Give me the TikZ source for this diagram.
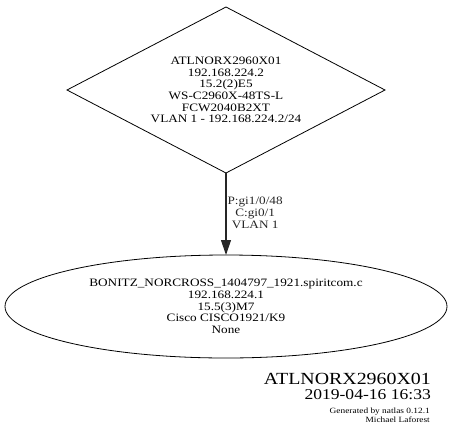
\documentclass[tikz,border=0pt]{standalone}
\usepackage{fontspec}
\setmainfont{Liberation Serif}[FakeStretch=1.17]
\usepackage{tikz}
\usetikzlibrary{shapes.geometric,arrows.meta}

\tikzset{
  devtext/.style={align=center, font=\fontsize{11.3}{11.7}\selectfont},
  switchbox/.style={draw, diamond, aspect=1.92, devtext, line width=0.8pt, inner sep=0pt, outer sep=0pt,
    minimum width=318pt, minimum height=166pt},
  routerbox/.style={draw, ellipse, devtext, line width=0.8pt, inner sep=0pt, outer sep=0pt,
    minimum width=442pt, minimum height=103pt},
  linkarrow/.style={-{Triangle[length=15pt,width=10pt]}, line width=1.2pt, black!85}
}

\begin{document}
\begin{tikzpicture}[x=1pt, y=-1pt]
        \useasboundingbox (0,0) rectangle (452,442);

        % Devices
        \node[switchbox] (sw) at (226, 90) {ATLNORX2960X01\\192.168.224.2\\15.2(2)E5\\WS-C2960X-48TS-L\\FCW2040B2XT\\VLAN 1 - 192.168.224.2/24};
        \node[routerbox] (rtr) at (226, 306.5) {BONITZ\_NORCROSS\_1404797\_1921.spiritcom.c\\192.168.224.1\\15.5(3)M7\\Cisco CISCO1921/K9\\None};

        % Link
        \draw[linkarrow] (sw.south) -- node[right, devtext, inner sep=1pt, yshift=1pt] (lnk) {P:gi1/0/48\\C:gi0/1\\VLAN 1} (rtr.north);

        % Stamp
        \node[anchor=base east, inner sep=0pt, font=\fontsize{17}{17}\selectfont] (title) at (431, 384) {ATLNORX2960X01};
        \node[anchor=base east, inner sep=0pt, font=\fontsize{15}{15}\selectfont] (stamp) at (431, 399) {2019-04-16 16:33};
        \node[anchor=base east, inner sep=0pt, font=\fontsize{8}{8}\selectfont] (credit) at (430, 413) {Generated by natlas 0.12.1};
        \node[anchor=base east, inner sep=0pt, font=\fontsize{8}{8}\selectfont] (author) at (430, 422) {Michael Laforest};
    \end{tikzpicture}
\end{document}
